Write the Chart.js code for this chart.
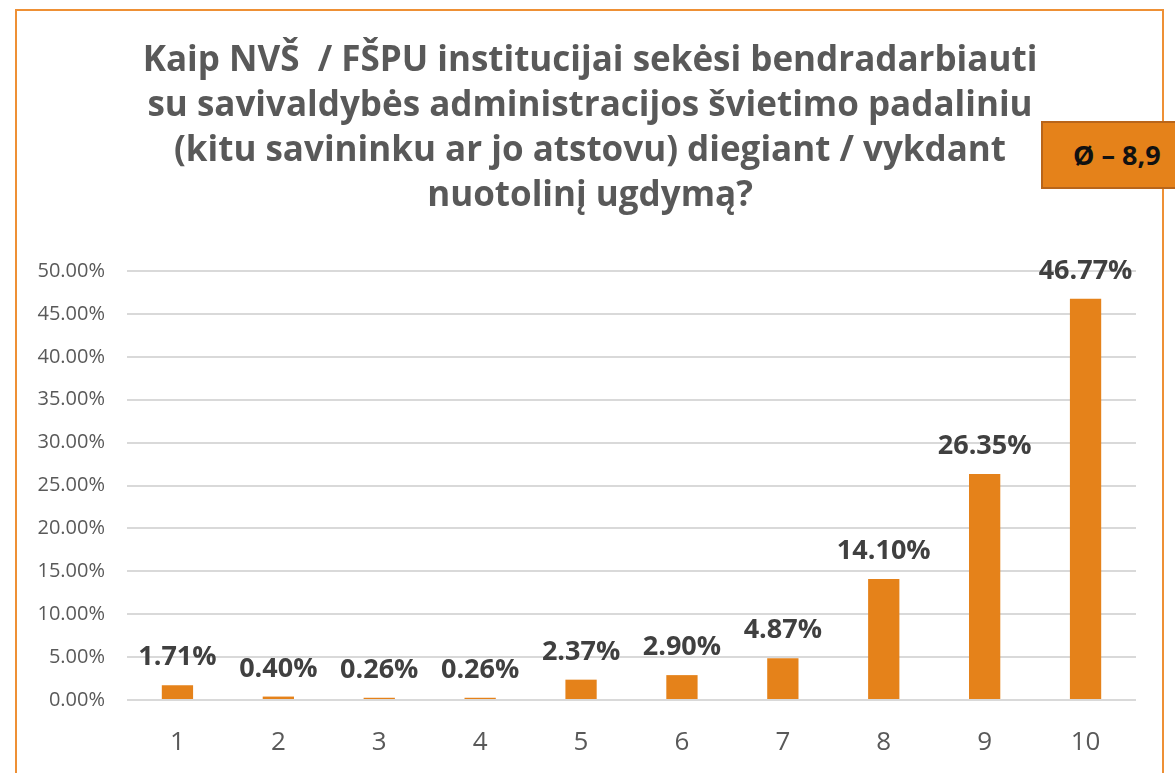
<!DOCTYPE html>
<html>
<head>
<meta charset="utf-8">
<script src="https://cdn.jsdelivr.net/npm/chart.js@4"></script>
<style>
  html, body { margin: 0; padding: 0; background: #fff; }
  #wrap { position: relative; width: 1175px; height: 773px; overflow: hidden; }
  #frame { position: absolute; left: 15px; top: 9px; width: 1149px; height: 800px;
           border: 2px solid #EE9035; box-sizing: border-box; }
  #avg { position: absolute; left: 1041px; top: 121px; width: 160px; height: 68px;
         background: #E5821A; border: 2px solid #B8651A; box-sizing: border-box;
         font: bold 27px "Open Sans", sans-serif; color: #111;
         line-height: 64px; padding-left: 30px; white-space: nowrap; }
  canvas { position: absolute; left: 0; top: 0; }
</style>
</head>
<body>
<div id="wrap">
  <div id="frame"></div>
  <canvas id="chart" width="1175" height="773"></canvas>
  <div id="avg">Ø – 8,9</div>
</div>
<script>
const categories = ['1', '2', '3', '4', '5', '6', '7', '8', '9', '10'];
const shares = [1.71, 0.40, 0.26, 0.26, 2.37, 2.90, 4.87, 14.10, 26.35, 46.77];
const titleLines = [
  'Kaip NVŠ  / FŠPU institucijai sekėsi bendradarbiauti',
  'su savivaldybės administracijos švietimo padaliniu',
  '(kitu savininku ar jo atstovu) diegiant / vykdant',
  'nuotolinį ugdymą?'
];

const ctx = document.getElementById('chart');

// title + value labels drawn on top of the canvas
const extras = {
  id: 'extras',
  afterDraw(chart) {
    const c = chart.ctx;
    c.save();
    c.fillStyle = '#595959';
    c.font = 'bold 35px "Open Sans", sans-serif';
    c.textAlign = 'center';
    c.textBaseline = 'alphabetic';
    titleLines.forEach((line, i) => c.fillText(line, 590, 71 + i * 45));

    const meta = chart.getDatasetMeta(0);
    c.fillStyle = '#404040';
    c.font = 'bold 27px "Open Sans", sans-serif';
    meta.data.forEach((bar, i) => {
      c.fillText(shares[i].toFixed(2) + '%', bar.x, bar.y - 20);
    });
    c.restore();
  }
};

new Chart(ctx, {
  type: 'bar',
  data: {
    labels: categories,
    datasets: [{
      data: shares,
      backgroundColor: '#E5821A',
      categoryPercentage: 1,
      barPercentage: 0.31
    }]
  },
  options: {
    responsive: false,
    animation: false,
    layout: { padding: { top: 271, right: 39, left: 0, bottom: 0 } },
    plugins: {
      legend: { display: false },
      tooltip: { enabled: false }
    },
    scales: {
      x: {
        grid: { display: false },
        border: { display: false },
        afterFit: s => { s.height = 73; },
        ticks: {
          color: '#595959',
          padding: 19,
          font: { family: 'Open Sans', size: 26 }
        }
      },
      y: {
        min: 0,
        max: 50,
        afterFit: s => { s.width = 127; },
        grid: { color: '#D9D9D9', lineWidth: 2, drawTicks: false },
        border: { display: false },
        ticks: {
          stepSize: 5,
          color: '#595959',
          padding: 22,
          font: { family: 'Open Sans', size: 20 },
          callback: v => v.toFixed(2) + '%'
        }
      }
    }
  },
  plugins: [extras]
});
</script>
</body>
</html>
